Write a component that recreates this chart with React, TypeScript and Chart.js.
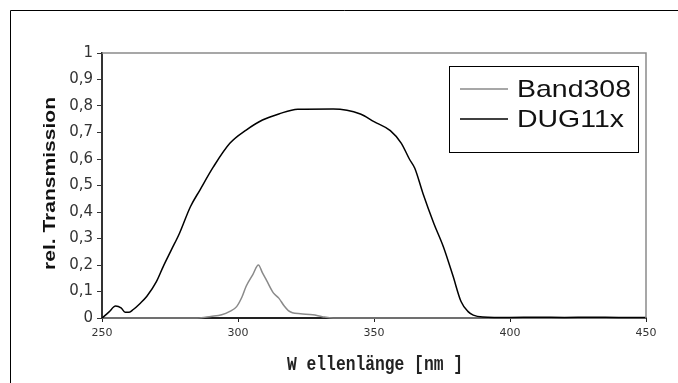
import React, { useEffect, useRef } from "react";
import { Chart, registerables } from "chart.js";

Chart.register(...registerables);

// ---- Data ----
const dugWavelength = [250, 252.5, 255, 257, 258.5, 260, 261.5, 264, 266.5, 270, 272.5, 275.5, 278.5, 282.5, 286, 291, 297, 303, 309, 315, 322, 335, 345, 350, 356, 360, 363, 365, 368, 372, 375.5, 379, 382, 384.5, 386.5, 390, 400, 410, 420, 430, 440, 450];
const dugValues = [0, 0.022, 0.045, 0.038, 0.022, 0.022, 0.032, 0.055, 0.082, 0.137, 0.194, 0.257, 0.32, 0.42, 0.483, 0.571, 0.659, 0.709, 0.747, 0.77, 0.788, 0.789, 0.77, 0.741, 0.707, 0.66, 0.6, 0.565, 0.47, 0.357, 0.269, 0.16, 0.062, 0.025, 0.011, 0.004, 0.002, 0.003, 0.002, 0.003, 0.002, 0.002];

const bandWavelength = [250, 285, 290, 294, 297, 299.5, 301.5, 303, 305.5, 307.5, 309, 310.5, 313, 315, 317, 318.5, 320, 323, 327.5, 331, 335, 450];
const bandValues = [0, 0, 0.006, 0.012, 0.025, 0.043, 0.08, 0.12, 0.165, 0.2, 0.17, 0.142, 0.095, 0.075, 0.045, 0.028, 0.02, 0.016, 0.012, 0.005, 0, 0];

const seriesNames = ["Band308", "DUG11x"];
const xTitle = "W ellenlänge [nm ]";
const yTitle = "rel. Transmission";

const xMin = 250, xMax = 450, xStep = 50;
const yMin = 0, yMax = 1, yStep = 0.1;

const GRAY = "#8a8a8a";
const BLACK = "#000000";

function drawFitted(ctx: CanvasRenderingContext2D, text: string, font: string, x: number, y: number, targetW: number, scaleY: number, align: CanvasTextAlign) {
  ctx.save();
  ctx.font = font;
  const w = ctx.measureText(text).width;
  const sx = targetW / w;
  ctx.translate(x, y);
  ctx.scale(sx, scaleY);
  ctx.textAlign = align;
  ctx.textBaseline = "alphabetic";
  ctx.fillText(text, 0, 0);
  ctx.restore();
}

const decorPlugin = {
  id: "decor",
  afterDraw(chart: any) {
    const ctx: CanvasRenderingContext2D = chart.ctx;
    const a = chart.chartArea;
    ctx.save();
    // outer frame (left & top visible)
    ctx.strokeStyle = "#000";
    ctx.lineWidth = 1;
    ctx.beginPath();
    ctx.moveTo(10.5, 400);
    ctx.lineTo(10.5, 10.5);
    ctx.lineTo(700, 10.5);
    ctx.stroke();
    // plot area top/right border
    ctx.strokeStyle = GRAY;
    ctx.lineWidth = 1.5;
    ctx.beginPath();
    ctx.moveTo(a.left, a.top);
    ctx.lineTo(a.right, a.top);
    ctx.lineTo(a.right, a.bottom);
    ctx.stroke();
    // legend
    ctx.strokeStyle = "#000";
    ctx.lineWidth = 1;
    ctx.fillStyle = "#fff";
    ctx.fillRect(449.5, 66.5, 189, 86);
    ctx.strokeRect(449.5, 66.5, 189, 86);
    ctx.lineWidth = 1.5;
    ctx.strokeStyle = GRAY;
    ctx.beginPath();
    ctx.moveTo(460, 89);
    ctx.lineTo(508, 89);
    ctx.stroke();
    ctx.strokeStyle = BLACK;
    ctx.beginPath();
    ctx.moveTo(460, 119);
    ctx.lineTo(508, 119);
    ctx.stroke();
    ctx.fillStyle = "#111";
    drawFitted(ctx, seriesNames[0], "24px 'Liberation Sans', Arial, sans-serif", 517, 97, 114, 1, "left");
    drawFitted(ctx, seriesNames[1], "24px 'Liberation Sans', Arial, sans-serif", 517, 127, 107, 1, "left");
    // x title
    ctx.fillStyle = "#222";
    drawFitted(ctx, xTitle, "bold 16px 'Liberation Mono', 'Courier New', monospace", 375, 370, 176, 1.3, "center");
    // y title (rotated)
    ctx.save();
    ctx.translate(55, 183.5);
    ctx.rotate(-Math.PI / 2);
    ctx.fillStyle = "#111";
    drawFitted(ctx, yTitle, "bold 17px 'Liberation Sans', Arial, sans-serif", 0, 0, 173, 1, "center");
    ctx.restore();
    ctx.restore();
  },
};

export default function App() {
  const ref = useRef<HTMLCanvasElement | null>(null);
  useEffect(() => {
    if (!ref.current) return;
    const chart = new Chart(ref.current, {
      type: "line",
      data: {
        datasets: [
          {
            label: seriesNames[1],
            data: dugWavelength.map((x, i) => ({ x, y: dugValues[i] })),
            borderColor: BLACK,
            borderWidth: 1.5,
            pointRadius: 0,
            cubicInterpolationMode: "monotone",
            fill: false,
            clip: 4,
            order: 0,
          } as any,
          {
            label: seriesNames[0],
            data: bandWavelength.map((x, i) => ({ x, y: bandValues[i] })),
            borderColor: GRAY,
            borderWidth: 1.5,
            pointRadius: 0,
            cubicInterpolationMode: "monotone",
            fill: false,
            clip: 4,
            order: 1,
          } as any,
        ],
      },
      options: {
        responsive: false,
        animation: false,
        devicePixelRatio: 1,
        layout: { padding: { left: 0, top: 53, right: 32, bottom: 0 } },
        plugins: { legend: { display: false }, tooltip: { enabled: false } },
        scales: {
          x: {
            type: "linear",
            min: xMin,
            max: xMax,
            afterFit: (s: any) => { s.height = 65; },
            ticks: {
              stepSize: xStep,
              autoSkip: false,
              maxRotation: 0,
              padding: 5,
              color: "#333",
              font: { family: "'DejaVu Sans', sans-serif", size: 11 },
              callback: (v: any) => String(v),
            },
            grid: { drawOnChartArea: false, tickLength: 4, color: "#222", lineWidth: 1 },
            border: { color: "#222", width: 2 },
          },
          y: {
            min: yMin,
            max: yMax,
            afterFit: (s: any) => { s.width = 102; },
            ticks: {
              stepSize: yStep,
              padding: 4,
              color: "#333",
              font: { family: "'DejaVu Sans', sans-serif", size: 15 },
              callback: (v: any) => {
                const r = Math.round(v * 10) / 10;
                if (r === 0) return "0";
                if (r === 1) return "1";
                return r.toFixed(1).replace(".", ",");
              },
            },
            grid: { drawOnChartArea: false, tickLength: 5, color: "#333", lineWidth: 1 },
            border: { color: "#333", width: 2 },
          },
        },
      },
      plugins: [decorPlugin],
    } as any);
    return () => chart.destroy();
  }, []);
  return (
    <div style={{ position: "fixed", left: 0, top: 0, width: 678, height: 383, background: "#fff" }}>
      <canvas ref={ref} width={678} height={383} style={{ width: 678, height: 383, display: "block" }} />
    </div>
  );
}
